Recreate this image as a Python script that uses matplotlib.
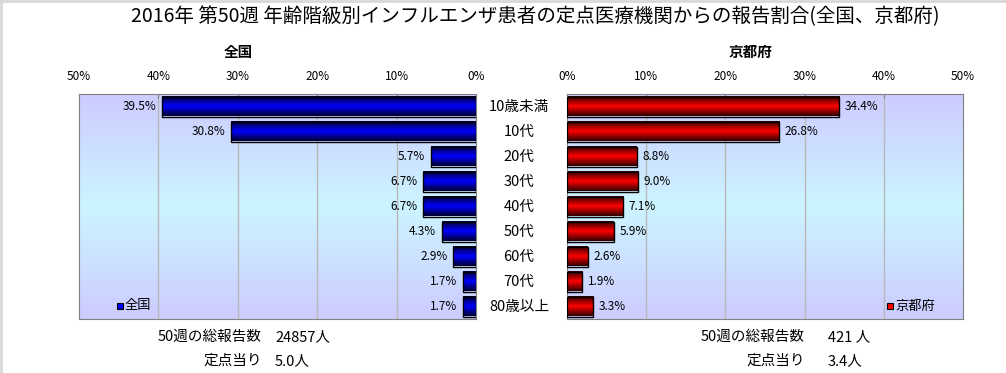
import numpy as np
import matplotlib
matplotlib.use('Agg')
import matplotlib.pyplot as plt
from matplotlib.colors import LinearSegmentedColormap
from matplotlib.patches import Rectangle
from matplotlib.lines import Line2D

plt.rcParams['font.family'] = ['Noto Sans CJK JP', 'DejaVu Sans']

# データ
categories = ['10歳未満', '10代', '20代', '30代', '40代', '50代', '60代', '70代', '80歳以上']
zenkoku = [39.5, 30.8, 5.7, 6.7, 6.7, 4.3, 2.9, 1.7, 1.7]
kyoto = [34.4, 26.8, 8.8, 9.0, 7.1, 5.9, 2.6, 1.9, 3.3]
ticks = [0, 10, 20, 30, 40, 50]
title = '2016年 第50週 年齢階級別インフルエンザ患者の定点医療機関からの報告割合(全国、京都府)'
total_zenkoku = '24857人'
total_kyoto = '421 人'
per_zenkoku = '5.0人'
per_kyoto = '3.4人'

W, H = 1006, 373
fig = plt.figure(figsize=(W / 100, H / 100), dpi=100)

def px(x0, y0, x1, y1):
    return [x0 / W, 1 - y1 / H, (x1 - x0) / W, (y1 - y0) / H]

# 背景グラデーション (上下: 薄紫, 中央: 水色)
bg_cmap = LinearSegmentedColormap.from_list('bg', ['#ccccff', '#ccf5ff', '#ccccff'])
blue_cmap = LinearSegmentedColormap.from_list('b', ['#000030', '#0000ff', '#000030'])
red_cmap = LinearSegmentedColormap.from_list('r', ['#300000', '#ff0000', '#300000'])
grad = np.linspace(0, 1, 64).reshape(-1, 1)
bar_h = 0.8

def draw_panel(ax, values, cmap, left_side):
    ax.imshow(grad, cmap=bg_cmap, extent=[0, 1, 0, 1], transform=ax.transAxes,
              aspect='auto', zorder=0)
    for t in ticks[1:-1]:
        ax.axvline(t, color='#b8b8b8', lw=1, zorder=1)
    for i, v in enumerate(values):
        y0, y1 = i - bar_h / 2, i + bar_h / 2
        ax.imshow(grad, cmap=cmap, extent=[0, v, y1, y0], aspect='auto', zorder=2)
        ax.add_patch(Rectangle((0, y0), v, bar_h, fill=False, ec='black', lw=1, zorder=3))
        if left_side:
            ax.annotate(f'{v:.1f}%', (v, i), xytext=(-4, 0), textcoords='offset points',
                        ha='right', va='center', fontsize=8.5)
        else:
            ax.annotate(f'{v:.1f}%', (v, i), xytext=(4, 0), textcoords='offset points',
                        ha='left', va='center', fontsize=8.5)
    ax.set_xlim((50, 0) if left_side else (0, 50))
    ax.set_ylim(len(values) - 0.5, -0.5)
    ax.set_xticks(ticks)
    ax.set_xticklabels([f'{t}%' for t in ticks], fontsize=8.5)
    ax.xaxis.tick_top()
    ax.tick_params(axis='x', direction='in', length=3, color='#808080', pad=8)
    ax.set_yticks([])
    for s in ax.spines.values():
        s.set_color('#808080')

ax1 = fig.add_axes(px(79, 94, 476, 319))
draw_panel(ax1, zenkoku, blue_cmap, True)
ax2 = fig.add_axes(px(567, 94, 963, 319))
draw_panel(ax2, kyoto, red_cmap, False)

# 凡例
for x, col, lab in [(117, '#0000ff', '全国'), (887, '#ff0000', '京都府')]:
    fig.add_artist(Rectangle((x / W, 1 - 309 / H), 6 / W, 6 / H, fc=col, ec='black',
                             lw=0.8, transform=fig.transFigure))
    fig.text((x + 8) / W, 1 - 306 / H, lab, fontsize=9.5, va='center', ha='left')

# 年齢階級ラベル
for i, c in enumerate(categories):
    y = 94 + (i + 0.5) * 225 / len(categories)
    fig.text(519 / W, 1 - y / H, c, fontsize=10.5, ha='center', va='center')

fig.text(535 / W, 1 - 17 / H, title, fontsize=14, ha='center', va='center')
fig.text(238 / W, 1 - 52 / H, '全国', fontsize=10.5, fontweight='bold', ha='center', va='center')
fig.text(751 / W, 1 - 52 / H, '京都府', fontsize=10.5, fontweight='bold', ha='center', va='center')

# 報告数
for xr, xl, tot, per in [(262, 275, total_zenkoku, per_zenkoku), (805, 828, total_kyoto, per_kyoto)]:
    fig.text(xr / W, 1 - 337 / H, '50週の総報告数', fontsize=10.5, ha='right', va='center')
    fig.text(xl / W, 1 - 337 / H, tot, fontsize=10.5, ha='left', va='center')
    fig.text(xr / W, 1 - 361 / H, '定点当り', fontsize=10.5, ha='right', va='center')
    fig.text(xl / W, 1 - 361 / H, per, fontsize=10.5, ha='left', va='center')

# 外枠 (上・左)
fig.add_artist(Line2D([0, 1], [1 - 0.5 / H, 1 - 0.5 / H], color='#d8d8d8', lw=2))
fig.add_artist(Line2D([0.5 / W, 0.5 / W], [0, 1], color='#d8d8d8', lw=2))

fig.savefig('out.png', dpi=100)
